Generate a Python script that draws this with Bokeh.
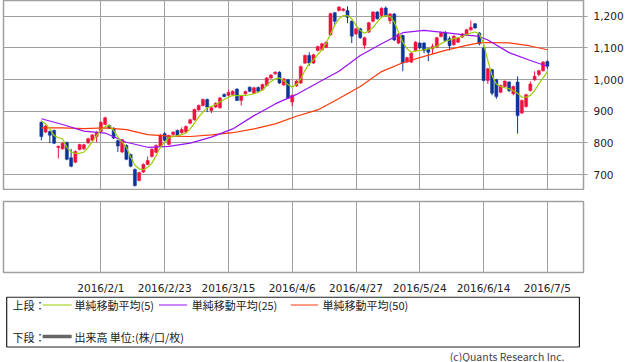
from bokeh.plotting import figure
from bokeh.layouts import column
from bokeh.models import Range1d, FixedTicker, NumeralTickFormatter, ColumnDataSource
from bokeh.core.properties import value
from bokeh.embed import file_html
from bokeh.resources import INLINE

# ---------------- data ----------------
trading_days = {
    1: [12, 13, 14, 15, 18, 19, 20, 21, 22, 25, 26, 27, 28, 29],
    2: [1, 2, 3, 4, 5, 8, 9, 10, 12, 15, 16, 17, 18, 19, 22, 23, 24, 25, 26, 29],
    3: [1, 2, 3, 4, 7, 8, 9, 10, 11, 14, 15, 16, 17, 18, 22, 23, 24, 25, 28, 29, 30, 31],
    4: [1, 4, 5, 6, 7, 8, 11, 12, 13, 14, 15, 18, 19, 20, 21, 22, 25, 26, 27, 28],
    5: [2, 6, 9, 10, 11, 12, 13, 16, 17, 18, 19, 20, 23, 24, 25, 26, 27, 30, 31],
    6: [1, 2, 3, 6, 7, 8, 9, 10, 13, 14, 15, 16, 17, 20, 21, 22, 23, 24, 27, 28, 29, 30],
    7: [1, 4, 5],
}
dates = [f"2016/{m}/{d}" for m, ds in trading_days.items() for d in ds]

opens = [865, 834, 836, 839, 785, 781, 801, 753, 739, 779,
         781, 800, 808, 820, 836, 858, 855, 846, 807, 771,
         792, 763, 716, 681, 708, 732, 757, 770, 790, 829,
         795, 826, 839, 832, 834, 862, 873, 904, 918, 937,
         902, 913, 911, 953, 950, 953, 970, 934, 955, 976,
         957, 975, 968, 981, 1005, 1018, 1023, 983, 999, 929,
         980, 989, 1052, 1076, 1052, 1092, 1094, 1102, 1141, 1211,
         1218, 1218, 1218, 1184, 1144, 1160, 1108, 1150, 1184, 1213,
         1202, 1226, 1186, 1207, 1115, 1139, 1055, 1055, 1092, 1115,
         1115, 1097, 1097, 1102, 1136, 1148, 1129, 1110, 1118, 1134,
         1142, 1157, 1176, 1147, 1099, 997, 1031, 999, 960, 978,
         992, 955, 992, 894, 915, 965, 999, 1016, 1028, 1057]
highs = [870, 856, 839, 842, 791, 802, 804, 781, 776, 797,
         797, 816, 828, 837, 868, 883, 858, 849, 810, 812,
         795, 766, 719, 709, 735, 757, 783, 795, 828, 834,
         826, 836, 842, 849, 855, 876, 908, 921, 940, 940,
         913, 928, 945, 956, 967, 966, 972, 950, 965, 978,
         977, 978, 987, 1008, 1017, 1026, 1026, 1005, 1002, 953,
         998, 1044, 1079, 1086, 1081, 1107, 1116, 1121, 1211, 1213,
         1232, 1226, 1231, 1187, 1163, 1163, 1135, 1182, 1216, 1216,
         1228, 1231, 1210, 1210, 1147, 1142, 1072, 1086, 1121, 1118,
         1118, 1100, 1113, 1135, 1151, 1153, 1136, 1140, 1134, 1147,
         1160, 1186, 1179, 1150, 1102, 1037, 1034, 1002, 984, 997,
         995, 981, 1010, 937, 955, 994, 1026, 1031, 1058, 1060]
lows = [808, 831, 799, 796, 751, 778, 745, 723, 736, 776,
        778, 797, 805, 802, 833, 856, 843, 812, 771, 768,
        745, 723, 662, 678, 705, 730, 754, 767, 787, 805,
        792, 823, 820, 829, 831, 859, 870, 901, 915, 897,
        894, 910, 908, 944, 947, 950, 932, 918, 952, 960,
        954, 960, 965, 978, 1002, 1015, 986, 980, 938, 915,
        977, 986, 1049, 1043, 1049, 1089, 1091, 1099, 1138, 1174,
        1215, 1215, 1178, 1115, 1141, 1129, 1097, 1147, 1181, 1189,
        1199, 1199, 1176, 1121, 1112, 1026, 1052, 1052, 1089, 1097,
        1083, 1058, 1081, 1099, 1133, 1120, 1092, 1107, 1115, 1131,
        1139, 1154, 1160, 1108, 994, 986, 950, 939, 957, 975,
        960, 950, 829, 891, 911, 962, 996, 1010, 1025, 1034]
closes = [820, 853, 824, 799, 789, 799, 748, 726, 773, 795,
          794, 813, 825, 832, 865, 879, 846, 815, 790, 810,
          748, 726, 665, 706, 732, 744, 780, 792, 825, 808,
          823, 834, 823, 842, 852, 873, 905, 918, 937, 913,
          911, 925, 942, 946, 959, 963, 934, 948, 962, 963,
          974, 963, 984, 1005, 1014, 1023, 989, 1002, 941, 950,
          995, 1041, 1076, 1052, 1078, 1104, 1113, 1118, 1208, 1184,
          1229, 1223, 1197, 1137, 1160, 1132, 1132, 1179, 1213, 1192,
          1225, 1202, 1207, 1125, 1144, 1052, 1069, 1083, 1118, 1100,
          1092, 1086, 1104, 1132, 1148, 1123, 1107, 1137, 1131, 1144,
          1157, 1165, 1163, 1113, 997, 1034, 957, 946, 981, 995,
          965, 978, 886, 934, 952, 986, 1010, 1028, 1055, 1042]

ma5 = [868, 860, 844, 823, 816, 813, 786, 771, 767, 767,
       771, 786, 804, 823, 841, 852, 855, 839, 818, 802,
       786, 755, 729, 718, 715, 723, 736, 760, 786, 802,
       816, 820, 823, 826, 831, 844, 862, 881, 897, 911,
       915, 921, 929, 937, 944, 950, 949, 950, 950, 952,
       955, 960, 967, 981, 994, 1002, 1005, 997, 984, 976,
       984, 1002, 1029, 1050, 1062, 1079, 1094, 1115, 1144, 1171,
       1192, 1202, 1202, 1192, 1171, 1155, 1146, 1153, 1165, 1181,
       1197, 1202, 1199, 1181, 1150, 1118, 1097, 1086, 1090, 1092,
       1094, 1097, 1100, 1104, 1113, 1121, 1125, 1129, 1132, 1136,
       1142, 1147, 1150, 1144, 1113, 1060, 1013, 986, 978, 974,
       971, 965, 957, 944, 944, 950, 965, 986, 1005, 1025]
ma_idx = [0, 5, 10, 15, 20, 25, 30, 35, 40, 45, 50, 55, 60, 65, 70,
          75, 80, 85, 90, 95, 100, 103, 105, 110, 115, 119]
ma25 = [876, 858, 837, 831, 802, 786, 789, 799, 818, 844, 886, 923, 953, 990, 1026,
        1076, 1113, 1148, 1155, 1148, 1140, 1136, 1125, 1085, 1060, 1042]
ma50 = [847, 847, 845, 847, 842, 826, 821, 820, 825, 832, 844, 860, 884, 904, 940,
        978, 1025, 1053, 1073, 1092, 1108, 1116, 1117, 1116, 1106, 1094]

tick_labels = ["2016/2/1", "2016/2/23", "2016/3/15", "2016/4/6",
               "2016/4/27", "2016/5/24", "2016/6/14", "2016/7/5"]
price_ticks = [700, 800, 900, 1000, 1100, 1200]

legend_row1 = ["上段：", "単純移動平均(5)", "単純移動平均(25)", "単純移動平均(50)"]
legend_row2 = ["下段：", "出来高 単位:(株/口/枚)"]
copyright_text = "(c)Quants Research Inc."

# ---------------- styles ----------------
RED = "#F2103E"
BLUE = "#0A3597"
GREEN = "#9ACD00"
PURPLE = "#9A12F5"
ORANGE = "#FF3A0A"
GRID = "#A0A0A0"
TXT = "#222222"
W = 638

x = list(range(len(dates)))
tick_idx = [dates.index(t) for t in tick_labels]
colors = [RED if c >= o else BLUE for o, c in zip(opens, closes)]
src = ColumnDataSource(dict(
    x=x, open=opens, close=closes, high=highs, low=lows,
    top=[max(o, c) for o, c in zip(opens, closes)],
    bottom=[min(o, c) for o, c in zip(opens, closes)],
    color=colors, date=dates))

x_range = Range1d(-8.9, 127.5)

# ---------------- top panel ----------------
pA = figure(width=W, height=190, x_range=x_range, y_range=Range1d(649.5, 1249.6),
            output_backend="svg", toolbar_location=None,
            x_axis_location=None, y_axis_location="right",
            min_border_left=3, min_border_right=55, min_border_top=0, min_border_bottom=0)
pA.outline_line_color = GRID
pA.outline_line_width = 1.5
pA.xgrid.ticker = FixedTicker(ticks=tick_idx)
pA.yaxis.ticker = FixedTicker(ticks=price_ticks)
pA.yaxis.formatter = NumeralTickFormatter(format="0,0")
pA.yaxis.axis_line_color = None
pA.yaxis.major_tick_line_color = GRID
pA.yaxis.major_tick_in = 0
pA.yaxis.major_tick_out = 4
pA.yaxis.minor_tick_line_color = None
pA.yaxis.major_label_standoff = 6
pA.yaxis.major_label_text_font = "DejaVu Sans"
pA.yaxis.major_label_text_font_size = "10.5px"
pA.yaxis.major_label_text_color = TXT
for g in (pA.xgrid, pA.ygrid):
    g.grid_line_color = GRID
    g.grid_line_width = 1

pA.segment(x0="x", y0="low", x1="x", y1="high", line_color="color", line_width=1, source=src)
pA.vbar(x="x", width=0.72, top="top", bottom="bottom", fill_color="color",
        line_color="color", line_width=0.5, source=src)
pA.line(x=ma_idx, y=ma50, line_color=ORANGE, line_width=1.2)
pA.line(x=ma_idx, y=ma25, line_color=PURPLE, line_width=1.2)
pA.line(x=x, y=ma5, line_color=GREEN, line_width=1.2)

# ---------------- lower (volume) panel ----------------
pB = figure(width=W, height=106, x_range=x_range, y_range=Range1d(0, 1),
            output_backend="svg", toolbar_location=None, y_axis_location=None,
            min_border_left=3, min_border_right=55, min_border_top=11, min_border_bottom=16)
pB.outline_line_color = GRID
pB.outline_line_width = 1.5
pB.xaxis.ticker = FixedTicker(ticks=tick_idx)
pB.xaxis.major_label_overrides = {i: lab for i, lab in zip(tick_idx, tick_labels)}
pB.xaxis.axis_line_color = None
pB.xaxis.major_tick_line_color = None
pB.xaxis.minor_tick_line_color = None
pB.xaxis.major_label_standoff = 3
pB.xaxis.major_label_text_font = "DejaVu Sans"
pB.xaxis.major_label_text_font_size = "10.5px"
pB.xaxis.major_label_text_color = TXT
pB.xgrid.grid_line_color = GRID
pB.ygrid.visible = False

# ---------------- legend / credits ----------------
H_C = 66
pC = figure(width=W, height=H_C, x_range=Range1d(0, W), y_range=Range1d(H_C, 0),
            output_backend="svg", toolbar_location=None,
            x_axis_location=None, y_axis_location=None, min_border=0)
pC.outline_line_color = None
pC.grid.visible = False
pC.quad(left=[3.5], right=[633.5], top=[0.7], bottom=[50.5], fill_color=None,
        line_color=TXT, line_width=1.2)
row1_y, row2_y = 8.5, 40
pC.segment(x0=[43, 171, 316], x1=[75, 202, 346], y0=[row1_y] * 3, y1=[row1_y] * 3,
           line_color=[GREEN, PURPLE, ORANGE], line_width=1.2)
pC.segment(x0=[43], x1=[75], y0=[row2_y], y1=[row2_y], line_color="#666666", line_width=3.5)
pC.text(x=[10, 78, 207, 351], y=[row1_y] * 4, text=legend_row1,
        text_baseline="middle", text_font=value("Noto Sans CJK JP"),
        text_font_size="11px", text_color=TXT)
pC.text(x=[10, 78], y=[row2_y] * 2, text=legend_row2,
        text_baseline="middle", text_font=value("Noto Sans CJK JP"),
        text_font_size="11px", text_color=TXT)
pC.text(x=[617], y=[59.5], text=[copyright_text], text_align="right",
        text_baseline="middle", text_font=value("Noto Sans CJK JP"),
        text_font_size="10.5px", text_color="#444444")

layout = column(pA, pB, pC, spacing=0)
open("out.html", "w").write(file_html(layout, INLINE))
